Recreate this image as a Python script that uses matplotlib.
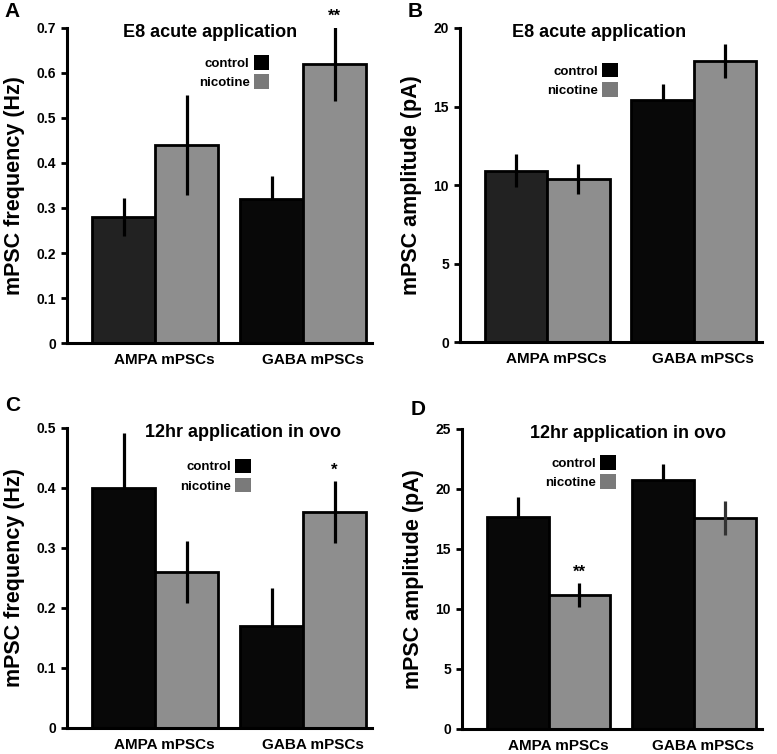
import numpy as np
import matplotlib
matplotlib.use("Agg")
import matplotlib.pyplot as plt
from matplotlib.patches import Patch

plt.rcParams['font.family'] = ['Liberation Sans', 'DejaVu Sans']
plt.rcParams['font.weight'] = 'bold'

groups = ['AMPA mPSCs', 'GABA mPSCs']

# panel A: frequency, acute
a_ctrl = [0.28, 0.32]
a_ctrl_err = [0.042, 0.052]
a_nic = [0.44, 0.62]
a_nic_err = [0.112, 0.082]
a_ticks = [0, 0.1, 0.2, 0.3, 0.4, 0.5, 0.6, 0.7]
a_ticklabels = ['0', '0.1', '0.2', '0.3', '0.4', '0.5', '0.6', '0.7']

# panel B: amplitude, acute
b_ctrl = [10.9, 15.4]
b_ctrl_err = [1.05, 1.0]
b_nic = [10.4, 17.9]
b_nic_err = [0.95, 1.1]
b_ticks = [0, 5, 10, 15, 20]
b_ticklabels = ['0', '5', '10', '15', '20']

# panel C: frequency, 12hr
c_ctrl = [0.40, 0.17]
c_ctrl_err = [0.092, 0.063]
c_nic = [0.26, 0.36]
c_nic_err = [0.052, 0.052]
c_ticks = [0, 0.1, 0.2, 0.3, 0.4, 0.5]
c_ticklabels = ['0', '0.1', '0.2', '0.3', '0.4', '0.5']

# panel D: amplitude, 12hr
d_ctrl = [17.7, 20.7]
d_ctrl_err = [1.6, 1.4]
d_nic = [11.2, 17.6]
d_nic_err = [1.0, 1.4]
d_ticks = [0, 5, 10, 15, 20, 25]
d_ticklabels = ['0', '5', '10', '15', '20', '25']

centers = np.array([1.4, 3.75])
w = 1.0

fig = plt.figure(figsize=(7.77, 7.54), dpi=100)

def panel(rect, ctrl, ctrl_err, nic, nic_err, ticks, ticklabels, ylabel, title,
          title_x, leg_anchor, letter, letter_xy, ctrl_colors, stars=None,
          nic_err_colors=('black', 'black')):
    ax = fig.add_axes(rect)
    ax.bar(centers - w / 2, ctrl, w, color=ctrl_colors, edgecolor='black', linewidth=2.0, zorder=2)
    ax.bar(centers + w / 2, nic, w, color='#8e8e8e', edgecolor='black', linewidth=2.0, zorder=2)
    for i in range(2):
        # on the pure black bars the lower half of the bar is hidden
        z = 1 if ctrl_colors[i] == '#080808' else 3
        ax.errorbar(centers[i] - w / 2, ctrl[i], yerr=ctrl_err[i], fmt='none',
                    ecolor='black', elinewidth=2.3, capsize=0, zorder=z)
        ax.errorbar(centers[i] + w / 2, nic[i], yerr=nic_err[i], fmt='none',
                    ecolor=nic_err_colors[i], elinewidth=2.3, capsize=0, zorder=3)
    ax.set_xlim(0, 4.85)
    ax.set_ylim(0, ticks[-1])
    ax.set_yticks(ticks)
    ax.set_yticklabels(ticklabels, fontsize=10, fontweight='bold')
    ax.set_xticks(centers + 0.15)
    ax.set_xticklabels(groups, fontsize=11, fontweight='bold')
    ax.tick_params(axis='x', length=0, pad=7)
    ax.tick_params(axis='y', length=4, width=2, direction='out', pad=4)
    for s in ['top', 'right']:
        ax.spines[s].set_visible(False)
    for s in ['left', 'bottom']:
        ax.spines[s].set_linewidth(2.2)
    ax.set_ylabel(ylabel, fontsize=15.5, fontweight='bold', labelpad=8)
    ax.text(title_x, 0.985, title, transform=ax.transAxes, ha='center', va='center',
            fontsize=13, fontweight='bold')
    handles = [Patch(facecolor='black', edgecolor='none', label='control'),
               Patch(facecolor='#7a7a7a', edgecolor='none', label='nicotine')]
    ax.legend(handles=handles, loc='upper right', bbox_to_anchor=leg_anchor,
              frameon=False, markerfirst=False, handlelength=1.2, handleheight=1.3,
              handletextpad=0.3, labelspacing=0.35, borderaxespad=0,
              prop={'size': 9.5, 'weight': 'bold'})
    fig.text(letter_xy[0], letter_xy[1], letter, fontsize=15, fontweight='bold',
             ha='left', va='top')
    if stars:
        for idx, txt in stars:
            top = nic[idx] + nic_err[idx]
            ax.annotate(txt, (centers[idx] + w / 2, top), xytext=(0, 2),
                        textcoords='offset points', ha='center', va='bottom',
                        fontsize=12, fontweight='bold', annotation_clip=False)
    return ax

panel([0.0862, 0.545, 0.393, 0.418], a_ctrl, a_ctrl_err, a_nic, a_nic_err,
      a_ticks, a_ticklabels, 'mPSC frequency (Hz)', 'E8 acute application', 0.47,
      (0.68, 0.93), 'A', (0.006, 0.998), ['#222222', '#080808'], stars=[(1, '**')])

panel([0.592, 0.546, 0.389, 0.417], b_ctrl, b_ctrl_err, b_nic, b_nic_err,
      b_ticks, b_ticklabels, 'mPSC amplitude (pA)', 'E8 acute application', 0.46,
      (0.54, 0.905), 'B', (0.525, 0.998), ['#222222', '#080808'])

panel([0.0862, 0.0345, 0.393, 0.398], c_ctrl, c_ctrl_err, c_nic, c_nic_err,
      c_ticks, c_ticklabels, 'mPSC frequency (Hz)', '12hr application in ovo', 0.575,
      (0.62, 0.915), 'C', (0.006, 0.475), ['#080808', '#080808'], stars=[(1, '*')])

panel([0.5946, 0.0332, 0.386, 0.398], d_ctrl, d_ctrl_err, d_nic, d_nic_err,
      d_ticks, d_ticklabels, 'mPSC amplitude (pA)', '12hr application in ovo', 0.553,
      (0.53, 0.93), 'D', (0.528, 0.47), ['#080808', '#080808'], stars=[(0, '**')],
      nic_err_colors=('black', '#333333'))

fig.savefig('out.png', dpi=100)
